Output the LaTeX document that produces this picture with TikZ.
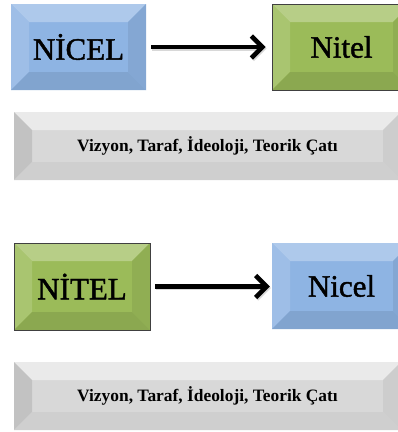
\documentclass[tikz,border=0pt]{standalone}
\usepackage{fontspec}
\setmainfont{Liberation Serif}
\newfontfamily\heavyserif[FakeBold=1.4]{Liberation Serif}
\usetikzlibrary{arrows.meta}

\definecolor{blueBase}{HTML}{8EB4E3}
\definecolor{greenBase}{HTML}{9BBB59}
\definecolor{greyBase}{HTML}{D8D8D8}
\colorlet{blueTop}{blueBase!72!white}
\colorlet{blueLeft}{blueBase!86!white}
\colorlet{blueRight}{blueBase!93!black}
\colorlet{blueBottom}{blueBase!91!black}
\colorlet{greenTop}{greenBase!72!white}
\colorlet{greenLeft}{greenBase!86!white}
\colorlet{greenRight}{greenBase!93!black}
\colorlet{greenBottom}{greenBase!90!black}
\colorlet{greyTop}{greyBase!55!white}
\colorlet{greyLeft}{greyBase!90!black}
\colorlet{greyRight}{greyBase!95!black}
\colorlet{greyBottom}{greyBase!96!black}

\tikzset{
  % rectangle with four bevel faces: top, left, right, bottom colours
  bevel/.style n args={4}{
    path picture={
      \path (path picture bounding box.north west) coordinate (bvNW)
            (path picture bounding box.north east) coordinate (bvNE)
            (path picture bounding box.south east) coordinate (bvSE)
            (path picture bounding box.south west) coordinate (bvSW);
      \fill[#1] (bvNW) -- (bvNE) -- ([shift={(-18pt,-18pt)}]bvNE) -- ([shift={(18pt,-18pt)}]bvNW) -- cycle;
      \fill[#2] (bvNW) -- (bvSW) -- ([shift={(18pt,18pt)}]bvSW) -- ([shift={(18pt,-18pt)}]bvNW) -- cycle;
      \fill[#3] (bvNE) -- (bvSE) -- ([shift={(-18pt,18pt)}]bvSE) -- ([shift={(-18pt,-18pt)}]bvNE) -- cycle;
      \fill[#4] (bvSW) -- (bvSE) -- ([shift={(-18pt,18pt)}]bvSE) -- ([shift={(18pt,18pt)}]bvSW) -- cycle;
    }
  },
  tile/.style={rectangle, inner sep=0pt, text=black},
  bluetile/.style={tile, fill=blueBase, bevel={blueTop}{blueLeft}{blueRight}{blueBottom}},
  greentile/.style={tile, fill=greenBase, draw=black!75, line width=0.8pt,
                    bevel={greenTop}{greenLeft}{greenRight}{greenBottom}},
  greytile/.style={tile, fill=greyBase, bevel={greyTop}{greyLeft}{greyRight}{greyBottom},
                   font=\fontsize{17.4}{19}\selectfont\bfseries},
  bigword/.style={font=\heavyserif\fontsize{31}{33}\selectfont},
  flow/.style={line width=4.5pt, -{Straight Barb[length=11pt, width=22pt]}},
  flowshadow/.style={flow, black!30, opacity=0.5}
}

\begin{document}
\begin{tikzpicture}[x=1pt, y=1pt]
  \useasboundingbox (0,0) rectangle (398,-432);
  \clip (0,0) rectangle (398,-432);

  % first pair
  \node[bluetile, bigword, minimum width=135pt, minimum height=86pt] (nicelA) at (78.5,-47) {NİCEL};
  \node[greentile, bigword, minimum width=139pt, minimum height=86pt] (nitelA) at (341.5,-47) {Nitel};
  \node[greytile, minimum width=387pt, minimum height=68pt] (fwA) at (207.5,-146) {Vizyon, Taraf, İdeoloji, Teorik Çatı};

  % second pair
  \node[greentile, bigword, minimum width=136pt, minimum height=87pt] (nitelB) at (82,-286.5) {NİTEL};
  \node[bluetile, bigword, minimum width=139pt, minimum height=86pt] (nicelB) at (341.5,-286) {Nicel};
  \node[greytile, minimum width=387pt, minimum height=68pt] (fwB) at (207.5,-396) {Vizyon, Taraf, İdeoloji, Teorik Çatı};

  % arrows with a soft drop shadow
  \draw[flowshadow, shorten <=5pt, shorten >=6pt, transform canvas={shift={(1pt,-1.5pt)}}] (nicelA) -- (nitelA);
  \draw[flow, shorten <=5pt, shorten >=6pt] (nicelA) -- (nitelA);
  \draw[flowshadow, shorten <=5pt, shorten >=2pt, transform canvas={shift={(1pt,-1.5pt)}}] (nitelB.east) -- (nicelB.west |- nitelB.east);
  \draw[flow, shorten <=5pt, shorten >=2pt] (nitelB.east) -- (nicelB.west |- nitelB.east);
\end{tikzpicture}
\end{document}
